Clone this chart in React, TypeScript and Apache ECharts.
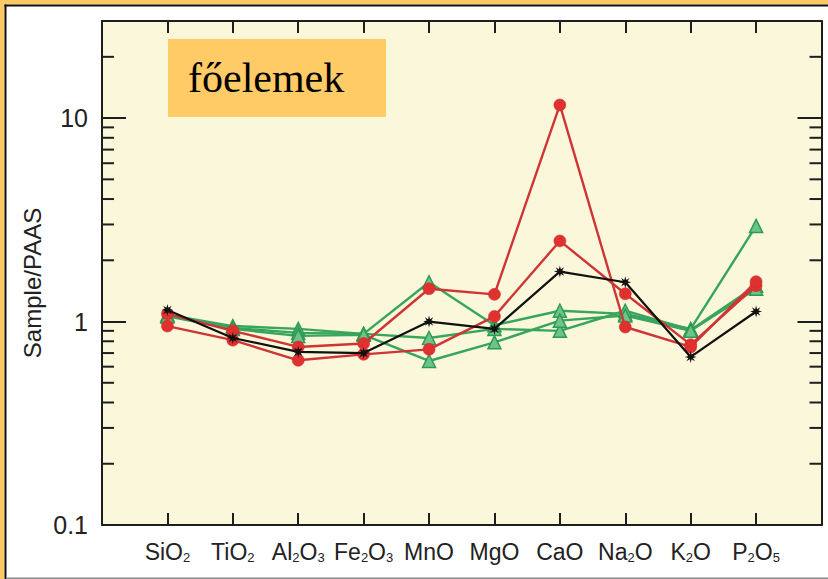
import React, { useEffect, useRef } from 'react';
import * as echarts from 'echarts';

// Oxide categories (x positions 0..9), with rich-text subscripts for the axis labels
const categories = ['SiO2', 'TiO2', 'Al2O3', 'Fe2O3', 'MnO', 'MgO', 'CaO', 'Na2O', 'K2O', 'P2O5'];
const xLabels = ['SiO{s|2}', 'TiO{s|2}', 'Al{s|2}O{s|3}', 'Fe{s|2}O{s|3}', 'MnO', 'MgO', 'CaO', 'Na{s|2}O', 'K{s|2}O', 'P{s|2}O{s|5}'];
const yTickValues = [0.1, 1, 10];
const yTickLabels = ['0.1', '1', '10'];
const minorTicks = [0.2, 0.3, 0.4, 0.5, 0.6, 0.7, 0.8, 0.9, 2, 3, 4, 5, 6, 7, 8, 9, 20];

// Sample/PAAS values
const redA = [1.09, 0.9, 0.75, 0.78, 1.45, 1.36, 11.6, 0.94, 0.75, 1.57];
const redB = [0.95, 0.81, 0.645, 0.69, 0.73, 1.06, 2.49, 1.37, 0.77, 1.5];
const greenA = [1.08, 0.95, 0.92, 0.87, 1.56, 0.96, 1.13, 1.09, 0.92, 2.95];
const greenB = [1.07, 0.93, 0.88, 0.87, 0.83, 0.92, 0.9, 1.13, 0.91, 1.5];
const greenC = [1.06, 0.92, 0.85, 0.86, 0.64, 0.79, 1.01, 1.07, 0.9, 1.45];
const blackS = [1.14, 0.83, 0.71, 0.7, 1.0, 0.92, 1.76, 1.56, 0.67, 1.12];

const titleText = 'főelemek';
const yAxisName = 'Sample/PAAS';

const starSymbol = (() => {
  const pts: string[] = [];
  for (let k = 0; k < 16; k++) {
    const r = k % 2 ? 0.42 : 1;
    const a = (k * Math.PI) / 8 - Math.PI / 2;
    pts.push(`${(r * Math.cos(a)).toFixed(3)},${(r * Math.sin(a)).toFixed(3)}`);
  }
  return 'path://M' + pts.join('L') + 'Z';
})();

const FONT = '"Liberation Sans", Arial, Helvetica, sans-serif';
const AXIS = '#1e1e1e';

const toPts = (arr: number[]) => arr.map((v, i) => [i, v]);

export default function App() {
  const ref = useRef<HTMLDivElement>(null);
  useEffect(() => {
    if (!ref.current) return;
    const chart = echarts.init(ref.current, null, { renderer: 'svg' });
    const greenStyle = (data: number[], name: string) => ({
      type: 'line',
      name,
      data: toPts(data),
      symbol: 'triangle',
      symbolSize: 13,
      lineStyle: { color: '#38a55c', width: 2.4 },
      itemStyle: { color: '#6cc48a', borderColor: '#2f9a52', borderWidth: 1.5 },
      z: 3,
    });
    const redStyle = (data: number[], name: string) => ({
      type: 'line',
      name,
      data: toPts(data),
      symbol: 'circle',
      symbolSize: 12,
      lineStyle: { color: '#cf3535', width: 2.4 },
      itemStyle: { color: '#e03131', borderColor: '#d02a2a', borderWidth: 0.5 },
      z: 4,
    });
    const xAxisBase = {
      type: 'value',
      min: -1,
      max: 10,
      interval: 1,
      splitLine: { show: false },
      axisLine: { show: true, onZero: false, lineStyle: { color: AXIS, width: 2 } },
      axisTick: { show: true, inside: true, length: 12, lineStyle: { color: AXIS, width: 2 } },
    };
    const yAxisBase = {
      type: 'log',
      logBase: 10,
      min: 0.1,
      max: 30,
      splitLine: { show: false },
      axisLine: { show: true, onZero: false, lineStyle: { color: AXIS, width: 2 } },
      axisTick: { show: true, inside: true, length: 24, lineStyle: { color: AXIS, width: 2 } },
    };
    chart.setOption({
      animation: false,
      grid: {
        left: 102,
        right: 6.5,
        top: 21,
        bottom: 54,
        show: true,
        backgroundColor: '#faf7da',
        borderWidth: 0,
      },
      xAxis: [
        {
          ...xAxisBase,
          position: 'bottom',
          axisLabel: {
            show: true,
            margin: 15,
            fontSize: 23,
            lineHeight: 24,
            fontFamily: FONT,
            color: '#222',
            formatter: (v: number) => {
              const i = Math.round(v);
              return i >= 0 && i < categories.length ? xLabels[i] : '';
            },
            rich: {
              s: { fontSize: 13, lineHeight: 6, verticalAlign: 'bottom', fontFamily: FONT, color: '#222' },
            },
          },
        },
        {
          ...xAxisBase,
          position: 'top',
          axisLabel: { show: false },
        },
      ],
      yAxis: [
        {
          ...yAxisBase,
          position: 'left',
          axisLabel: {
            show: true,
            margin: 14,
            fontSize: 25,
            fontFamily: FONT,
            color: '#222',
            formatter: (v: number) => {
              for (let i = 0; i < yTickValues.length; i++) {
                if (Math.abs(v - yTickValues[i]) < yTickValues[i] * 0.01) return yTickLabels[i];
              }
              return '';
            },
          },
        },
        {
          ...yAxisBase,
          position: 'right',
          axisLabel: { show: false },
        },
      ],
      graphic: [
        { type: 'rect', shape: { x: 0, y: 0, width: 828, height: 4.5 }, style: { fill: '#ffc966' }, silent: true },
        { type: 'rect', shape: { x: 0, y: 0, width: 4.5, height: 579 }, style: { fill: '#ffc966' }, silent: true },
        { type: 'rect', shape: { x: 4.5, y: 4.5, width: 824, height: 2 }, style: { fill: '#111' }, silent: true },
        { type: 'rect', shape: { x: 4.5, y: 4.5, width: 2, height: 575 }, style: { fill: '#111' }, silent: true },
        { type: 'rect', shape: { x: 6, y: 577.5, width: 822, height: 1.5 }, style: { fill: '#8a8a8a' }, silent: true },
        { type: 'rect', shape: { x: 168, y: 39, width: 218, height: 78 }, style: { fill: '#ffcb66' }, z: 10, silent: true },
        {
          type: 'text',
          x: 188,
          y: 78,
          z: 11,
          style: {
            text: titleText,
            fontSize: 42,
            fontFamily: '"Liberation Serif", "Times New Roman", serif',
            fill: '#000',
            align: 'left',
            verticalAlign: 'middle',
          },
          silent: true,
        },
        {
          type: 'text',
          x: 32,
          y: 283,
          rotation: Math.PI / 2,
          style: {
            text: yAxisName,
            fontSize: 24,
            fontFamily: FONT,
            fill: '#222',
            align: 'center',
            verticalAlign: 'middle',
          },
          silent: true,
        },
      ],
      series: [
        {
          type: 'custom',
          name: 'minor ticks',
          silent: true,
          data: minorTicks.map((v) => [-1, v]),
          encode: { x: 0, y: 1 },
          z: 6,
          renderItem: (params: any, api: any) => {
            const v = api.value(1);
            const l = api.coord([-1, v]);
            const r = api.coord([10, v]);
            return {
              type: 'group',
              children: [
                { type: 'line', shape: { x1: l[0], y1: l[1], x2: l[0] + 12, y2: l[1] }, style: { stroke: AXIS, lineWidth: 2 } },
                { type: 'line', shape: { x1: r[0] - 12, y1: r[1], x2: r[0], y2: r[1] }, style: { stroke: AXIS, lineWidth: 2 } },
              ],
            };
          },
        },
        greenStyle(greenA, 'green 1'),
        greenStyle(greenB, 'green 2'),
        greenStyle(greenC, 'green 3'),
        redStyle(redB, 'red 2'),
        redStyle(redA, 'red 1'),
        {
          type: 'line',
          name: 'black',
          data: toPts(blackS),
          symbol: starSymbol,
          symbolSize: 12,
          lineStyle: { color: '#111', width: 2.2 },
          itemStyle: { color: '#111' },
          z: 5,
        },
      ],
    });
    return () => chart.dispose();
  }, []);
  return (
    <div
      ref={ref}
      style={{ position: 'fixed', left: 0, top: 0, width: 828, height: 579, background: '#fff' }}
    />
  );
}
